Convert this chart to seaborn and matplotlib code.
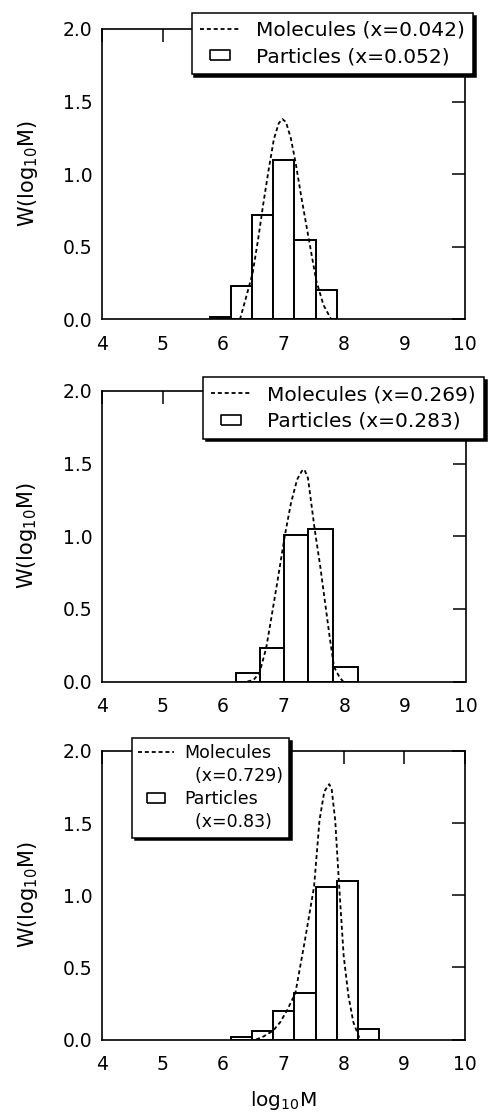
import matplotlib
matplotlib.use("Agg")
import numpy as np
import pandas as pd
import matplotlib.pyplot as plt
from matplotlib.lines import Line2D
from matplotlib.ticker import FormatStrFormatter
import seaborn as sns

# ---------------- data ----------------
x_ticks = [4, 5, 6, 7, 8, 9, 10]
y_ticks = [0.0, 0.5, 1.0, 1.5, 2.0]

# panel 1
p1_bin_edges = [5.78, 6.13, 6.48, 6.83, 7.18, 7.53, 7.88]
p1_particles = [0.02, 0.23, 0.72, 1.10, 0.55, 0.20]
p1_mol_x = [6.28, 6.38, 6.49, 6.58, 6.66, 6.75, 6.84, 6.92, 6.98, 7.04,
            7.12, 7.20, 7.30, 7.42, 7.54, 7.66, 7.79]
p1_mol_y = [0.00, 0.15, 0.32, 0.55, 0.78, 1.02, 1.24, 1.35, 1.38, 1.36,
            1.25, 1.08, 0.83, 0.55, 0.27, 0.10, 0.00]
p1_labels = ["Molecules (x=0.042)", "Particles (x=0.052)"]

# panel 2
p2_bin_edges = [6.21, 6.60, 7.01, 7.40, 7.81, 8.22]
p2_particles = [0.06, 0.23, 1.01, 1.05, 0.10]
p2_mol_x = [6.40, 6.50, 6.60, 6.71, 6.80, 6.90, 7.02, 7.12, 7.22, 7.30,
            7.34, 7.40, 7.51, 7.60, 7.68, 7.76, 7.83, 7.92, 7.98]
p2_mol_y = [0.00, 0.01, 0.06, 0.23, 0.45, 0.70, 1.01, 1.23, 1.39, 1.45,
            1.46, 1.40, 1.05, 0.80, 0.55, 0.30, 0.10, 0.03, 0.00]
p2_labels = ["Molecules (x=0.269)", "Particles (x=0.283)"]

# panel 3
p3_bin_edges = [6.13, 6.48, 6.83, 7.18, 7.54, 7.89, 8.24, 8.59]
p3_particles = [0.02, 0.06, 0.20, 0.32, 1.06, 1.10, 0.07]
p3_mol_x = [6.55, 6.67, 6.83, 6.95, 7.06, 7.20, 7.36, 7.51, 7.60, 7.68,
            7.76, 7.80, 7.86, 7.92, 8.00, 8.08, 8.16, 8.27]
p3_mol_y = [0.00, 0.02, 0.06, 0.12, 0.20, 0.32, 0.69, 1.06, 1.52, 1.72,
            1.77, 1.74, 1.52, 1.10, 0.58, 0.30, 0.12, 0.00]
p3_labels = ["Molecules", "  (x=0.729)", "Particles", "  (x=0.83)"]

y_label = r"W(log$_{10}$M)"
x_label = r"log$_{10}$M"

# ---------------- style ----------------
sns.set_theme(style="white")
plt.rcParams["font.family"] = ["DejaVu Sans"]
plt.rcParams["mathtext.default"] = "regular"
plt.rcParams["text.color"] = "black"
plt.rcParams["axes.labelcolor"] = "black"
plt.rcParams["xtick.color"] = "black"
plt.rcParams["ytick.color"] = "black"

fig = plt.figure(figsize=(4.91, 11.12), dpi=100)
W, H = 491.0, 1112.0

# axes boxes in pixels: (left, top, right, bottom)
boxes = [(102, 29, 465, 319.5), (102, 391, 465.5, 681.5), (102, 751, 464.5, 1039.5)]

dash = (0, (2.2, 1.6))


def make_axes(box):
    l, t, r, b = box
    return fig.add_axes([l / W, 1 - b / H, (r - l) / W, (b - t) / H])


def draw_panel(ax, edges, heights, mol_x, mol_y):
    centers = [(a + b) / 2 for a, b in zip(edges[:-1], edges[1:])]
    df = pd.DataFrame({"logM": centers, "W": heights})
    sns.histplot(data=df, x="logM", weights="W", bins=list(edges), stat="count",
                 element="bars", fill=True, color="white", alpha=1,
                 edgecolor="black", linewidth=1.4, ax=ax, zorder=1)
    mdf = pd.DataFrame({"logM": mol_x, "W": mol_y})
    sns.lineplot(data=mdf, x="logM", y="W", color="black", lw=1.3,
                 linestyle=dash, ax=ax, zorder=2, sort=False)
    ax.set_xlim(4, 10)
    ax.set_ylim(0, 2.0)
    ax.set_xticks(x_ticks)
    ax.set_yticks(y_ticks)
    ax.yaxis.set_major_formatter(FormatStrFormatter("%.1f"))
    ax.set_axisbelow(False)
    ax.tick_params(axis="both", which="major", direction="in", length=9.5,
                   width=1.1, top=True, right=True, labelsize=13.5)
    ax.tick_params(axis="x", pad=11.0)
    ax.tick_params(axis="y", pad=7.0)
    for s in ax.spines.values():
        s.set_visible(True)
        s.set_color("black")
        s.set_linewidth(1.2)
    ax.set_xlabel("")
    ax.set_ylabel(y_label, fontsize=15)
    ax.yaxis.set_label_coords(-0.172, 0.5)


def rect_marker(ratio):
    return [(-1, -ratio), (1, -ratio), (1, ratio), (-1, ratio), (-1, -ratio)]


axes = [make_axes(b) for b in boxes]
draw_panel(axes[0], p1_bin_edges, p1_particles, p1_mol_x, p1_mol_y)
draw_panel(axes[1], p2_bin_edges, p2_particles, p2_mol_x, p2_mol_y)
draw_panel(axes[2], p3_bin_edges, p3_particles, p3_mol_x, p3_mol_y)

axes[2].set_xlabel(x_label, fontsize=14.5)
axes[2].xaxis.set_label_coords(0.5, -0.172)


def style_legend(leg):
    fr = leg.get_frame()
    fr.set_edgecolor("black")
    fr.set_linewidth(1.1)
    fr.set_facecolor("white")
    fr.set_alpha(1)


# legends panel 1 & 2
for ax, labels, anchor in [(axes[0], p1_labels, (1.022, 1.056)),
                           (axes[1], p2_labels, (1.051, 1.047))]:
    h_mol = Line2D([], [], color="black", lw=1.3, linestyle=dash)
    h_par = Line2D([], [], linestyle="none", marker=rect_marker(0.47),
                   markersize=15, markerfacecolor="white",
                   markeredgecolor="black", markeredgewidth=1.2)
    leg = ax.legend([h_mol, h_par], labels, loc="upper right",
                    bbox_to_anchor=anchor, borderaxespad=0, fontsize=14.5,
                    handlelength=2.0, handletextpad=0.8, borderpad=0.4,
                    labelspacing=0.36, fancybox=False,
                    shadow={"color": "black", "alpha": 1}, framealpha=1)
    style_legend(leg)

# legend panel 3 (two-line entries)
h_mol = Line2D([], [], color="black", lw=1.3, linestyle=dash)
h_par = Line2D([], [], linestyle="none", marker=rect_marker(0.62),
               markersize=12.5, markerfacecolor="white",
               markeredgecolor="black", markeredgewidth=1.2)
h_none1 = Line2D([], [], linestyle="none")
h_none2 = Line2D([], [], linestyle="none")
leg = axes[2].legend([h_mol, h_none1, h_par, h_none2], p3_labels,
                     loc="upper left", bbox_to_anchor=(0.082, 1.046),
                     borderaxespad=0, fontsize=12.5, handlelength=2.1,
                     handletextpad=0.55, borderpad=0.35, labelspacing=0.3,
                     fancybox=False, shadow={"color": "black", "alpha": 1},
                     framealpha=1)
style_legend(leg)

fig.savefig("out.png", dpi=100)
